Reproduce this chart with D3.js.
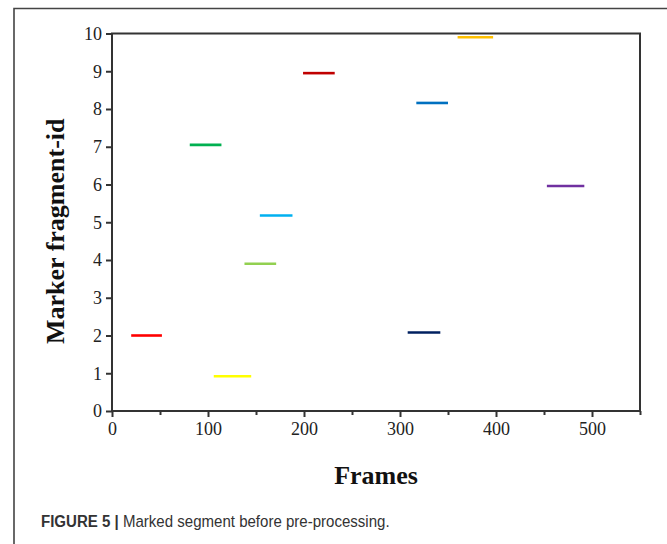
<!DOCTYPE html>
<html>
<head>
<meta charset="utf-8">
<script src="https://cdn.jsdelivr.net/npm/d3@7"></script>
<style>
  body { margin: 0; background: #fff; }
  svg { display: block; }
  .axis text { font-family: "Liberation Serif", "Times New Roman", serif; font-size: 18px; fill: #222; }
  .axis line { stroke: #333; stroke-width: 2px; }
</style>
</head>
<body>
<div id="chart"></div>
<script>
// Data: each segment is one marker fragment (start frame, end frame, id level)
var fragStart = [20, 106, 81, 154, 199, 138, 317, 360, 308, 453];
var fragEnd   = [52, 145, 114, 188, 232, 171, 350, 397, 342, 492];
var fragId    = [2.0, 0.92, 7.05, 5.18, 8.95, 3.9, 8.16, 9.9, 2.08, 5.96];
var fragColor = ["#ff0000", "#ffff00", "#00b050", "#00b0f0", "#c00000",
                 "#92d050", "#0070c0", "#ffc000", "#002060", "#7030a0"];
var xTicks = [0, 100, 200, 300, 400, 500];
var xMinorTicks = [50, 150, 250, 350, 450, 550];
var yTicks = [0, 1, 2, 3, 4, 5, 6, 7, 8, 9, 10];

var svgWidth = 667;
var svgHeight = 544;

var margin = { top: 33.5, right: 27, bottom: 133, left: 112 };
var width = svgWidth - margin.left - margin.right;
var height = svgHeight - margin.top - margin.bottom;

var svg = d3.select("#chart")
  .append("svg")
  .attr("width", svgWidth)
  .attr("height", svgHeight);

// outer figure frame (only top and left edges show)
svg.append("path")
  .attr("d", "M14,560 L14,8.5 L680,8.5")
  .attr("fill", "none")
  .attr("stroke", "#444")
  .attr("stroke-width", 1.6);

var chartGroup = svg.append("g")
  .attr("transform", `translate(${margin.left}, ${margin.top})`);

var x = d3.scaleLinear().domain([0, 550]).range([0, width]);
var y = d3.scaleLinear().domain([0, 10]).range([height, 0]);

// plot box
chartGroup.append("rect")
  .attr("x", 0)
  .attr("y", 0)
  .attr("width", width)
  .attr("height", height)
  .attr("fill", "none")
  .attr("stroke", "#333")
  .attr("stroke-width", 2);

// x axis, major + minor ticks
chartGroup.append("g")
  .attr("class", "axis")
  .attr("transform", `translate(0, ${height})`)
  .call(d3.axisBottom(x).tickValues(xTicks).tickSize(6).tickPadding(5).tickFormat(d3.format("d")));

chartGroup.append("g")
  .attr("class", "axis")
  .attr("transform", `translate(0, ${height})`)
  .call(d3.axisBottom(x).tickValues(xMinorTicks).tickSize(4).tickFormat(""));

// y axis
chartGroup.append("g")
  .attr("class", "axis")
  .call(d3.axisLeft(y).tickValues(yTicks).tickSize(6).tickPadding(4).tickFormat(d3.format("d")));

chartGroup.selectAll(".domain").remove();

// segments
chartGroup.selectAll(".seg")
  .data(fragId)
  .enter()
  .append("line")
  .attr("class", "seg")
  .attr("x1", (d, i) => x(fragStart[i]))
  .attr("x2", (d, i) => x(fragEnd[i]))
  .attr("y1", d => y(d))
  .attr("y2", d => y(d))
  .attr("stroke", (d, i) => fragColor[i])
  .attr("stroke-width", 2.6);

// axis titles
chartGroup.append("text")
  .attr("x", width / 2)
  .attr("y", height + 73)
  .attr("text-anchor", "middle")
  .style("font-family", "'Liberation Serif', 'Times New Roman', serif")
  .style("font-weight", "bold")
  .style("font-size", "26px")
  .attr("fill", "#111")
  .text("Frames");

chartGroup.append("text")
  .attr("transform", "rotate(-90)")
  .attr("x", -height / 2 - 9)
  .attr("y", -48)
  .attr("text-anchor", "middle")
  .style("font-family", "'Liberation Serif', 'Times New Roman', serif")
  .style("font-weight", "bold")
  .style("font-size", "26px")
  .attr("fill", "#111")
  .text("Marker fragment-id");

// caption, squeezed to look like a condensed face
var caption = svg.append("text")
  .attr("transform", "translate(41, 527) scale(0.885, 1)")
  .style("font-family", "'Liberation Sans', Arial, sans-serif")
  .style("font-size", "17px")
  .attr("fill", "#333");
caption.append("tspan").style("font-weight", "bold").text("FIGURE 5 | ");
caption.append("tspan").text("Marked segment before pre-processing.");
</script>
</body>
</html>
